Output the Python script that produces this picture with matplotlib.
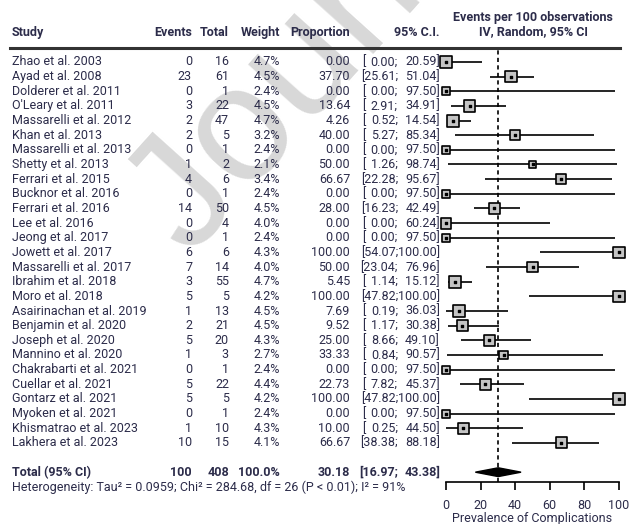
import matplotlib
matplotlib.use('Agg')
import matplotlib.pyplot as plt
from matplotlib.transforms import blended_transform_factory
from matplotlib.patches import Polygon
import numpy as np

plt.rcParams['font.family'] = ['Roboto', 'DejaVu Sans']

# data
studies = ['Zhao et al. 2003', 'Ayad et al. 2008', 'Dolderer et al. 2011', "O'Leary et al. 2011",
           'Massarelli et al. 2012', 'Khan et al. 2013', 'Massarelli et al. 2013', 'Shetty et al. 2013',
           'Ferrari et al. 2015', 'Bucknor et al. 2016', 'Ferrari et al. 2016', 'Lee et al. 2016',
           'Jeong et al. 2017', 'Jowett et al. 2017', 'Massarelli et al. 2017', 'Ibrahim et al. 2018',
           'Moro et al. 2018', 'Asairinachan et al. 2019', 'Benjamin et al. 2020', 'Joseph et al. 2020',
           'Mannino et al. 2020', 'Chakrabarti et al. 2021', 'Cuellar et al. 2021', 'Gontarz et al. 2021',
           'Myoken et al. 2021', 'Khismatrao et al. 2023', 'Lakhera et al. 2023']
events = [0, 23, 0, 3, 2, 2, 0, 1, 4, 0, 14, 0, 0, 6, 7, 3, 5, 1, 2, 5, 1, 0, 5, 5, 0, 1, 10]
totals = [16, 61, 1, 22, 47, 5, 1, 2, 6, 1, 50, 4, 1, 6, 14, 55, 5, 13, 21, 20, 3, 1, 22, 5, 1, 10, 15]
weights = [4.7, 4.5, 2.4, 4.5, 4.7, 3.2, 2.4, 2.1, 3.4, 2.4, 4.5, 4.0, 2.4, 4.3, 4.0, 4.7, 4.2,
           4.5, 4.5, 4.3, 2.7, 2.4, 4.4, 4.2, 2.4, 4.3, 4.1]
props = [0.00, 37.70, 0.00, 13.64, 4.26, 40.00, 0.00, 50.00, 66.67, 0.00, 28.00, 0.00, 0.00, 100.00,
         50.00, 5.45, 100.00, 7.69, 9.52, 25.00, 33.33, 0.00, 22.73, 100.00, 0.00, 10.00, 66.67]
ci_lo = [0.00, 25.61, 0.00, 2.91, 0.52, 5.27, 0.00, 1.26, 22.28, 0.00, 16.23, 0.00, 0.00, 54.07,
         23.04, 1.14, 47.82, 0.19, 1.17, 8.66, 0.84, 0.00, 7.82, 47.82, 0.00, 0.25, 38.38]
ci_hi = [20.59, 51.04, 97.50, 34.91, 14.54, 85.34, 97.50, 98.74, 95.67, 97.50, 42.49, 60.24, 97.50,
         100.00, 76.96, 15.12, 100.00, 36.03, 30.38, 49.10, 90.57, 97.50, 45.37, 100.00, 97.50, 44.50, 88.18]

total_events = 100
total_n = 408
pooled = 30.18
pooled_lo = 16.97
pooled_hi = 43.38
hetero = 'Heterogeneity: Tau² = 0.0959; Chi² = 284.68, df = 26 (P < 0.01); I² = 91%'
xticks = [0, 20, 40, 60, 80, 100]

W, H = 630, 524
txt = '#2c2c4a'
fs = 9.0

fig = plt.figure(figsize=(W / 100, H / 100), dpi=100)
fig.patch.set_facecolor('white')

# forest axes: x 0..100 maps to px 446..619, rows 14.65 px apart
ax = fig.add_axes([446 / W, 1 - 482 / H, 173 / W, (482 - 48) / H])
ax.patch.set_visible(False)
ax.set_xlim(0, 100)
ax.set_ylim(28.67, -0.95)

rows = np.arange(len(studies))
tot_row = len(studies) + 1

ax.hlines(rows, ci_lo, ci_hi, color='black', lw=1.2, zorder=2)
sides = 8.6 * (np.array(weights) / 4.7) ** 0.6
ax.scatter(props, rows, s=sides ** 2, marker='s', facecolor='#c4c4c4', edgecolor='black',
           linewidth=1.2, zorder=3, clip_on=False)
ax.scatter(props, rows, s=2, marker='s', color='black', zorder=4, clip_on=False)

ax.axvline(pooled, color='black', lw=1.2, ls=(0, (2.5, 2)), zorder=1)
diamond = Polygon([[pooled_lo, tot_row], [pooled, tot_row - 0.3], [pooled_hi, tot_row],
                   [pooled, tot_row + 0.3]], closed=True, color='black', zorder=5)
ax.add_patch(diamond)

for s in ['left', 'right', 'top']:
    ax.spines[s].set_visible(False)
ax.spines['bottom'].set_linewidth(1.2)
ax.spines['bottom'].set_bounds(0, 100)
ax.set_yticks([])
ax.set_xticks(xticks)
ax.tick_params(axis='x', direction='out', length=6, width=1.2, pad=6, labelsize=fs, labelcolor=txt)
ax.set_xlabel('Prevalence of Complications', fontsize=fs, color=txt, labelpad=0)

# table text: x in pixels, y in forest rows
tr = blended_transform_factory(fig.transFigure, ax.transData)


def put(x, y, s, ha='left', bold=False, **kw):
    ax.text(x / W, y, s, transform=tr, ha=ha, va='center', fontsize=fs, color=txt,
            fontweight='bold' if bold else 'normal', clip_on=False, **kw)


def put_ci(y, lo, hi, bold=False):
    if lo >= 10:
        put(398, y, f'[{lo:.2f};', ha='right', bold=bold)
    else:
        put(362, y, '[', bold=bold)
        put(398, y, f'{lo:.2f};', ha='right', bold=bold)
    put(440, y, f'{hi:.2f}]', ha='right', bold=bold)


put(12, -2, 'Study', bold=True)
put(192, -2, 'Events', ha='right', bold=True)
put(229, -2, 'Total', ha='right', bold=True)
put(280, -2, 'Weight', ha='right', bold=True)
put(350, -2, 'Proportion', ha='right', bold=True)
put(440, -2, '95% C.I.', ha='right', bold=True)
put(533, -3, 'Events per 100 observations', ha='center', bold=True)
put(533, -2.05, 'IV, Random, 95% CI', ha='center', bold=True)

ax.plot([10 / W, 620 / W], [-0.95, -0.95], transform=tr, color='#333333', lw=2.2, clip_on=False)

for i, name in enumerate(studies):
    put(12, i, name)
    put(192, i, str(events[i]), ha='right')
    put(229, i, str(totals[i]), ha='right')
    put(280, i, f'{weights[i]:.1f}%', ha='right')
    put(350, i, f'{props[i]:.2f}', ha='right')
    put_ci(i, ci_lo[i], ci_hi[i])

put(12, tot_row, 'Total (95% CI)', bold=True)
put(192, tot_row, str(total_events), ha='right', bold=True)
put(229, tot_row, str(total_n), ha='right', bold=True)
put(280, tot_row, '100.0%', ha='right', bold=True)
put(350, tot_row, f'{pooled:.2f}', ha='right', bold=True)
put_ci(tot_row, pooled_lo, pooled_hi, bold=True)
put(12, tot_row + 1.05, hetero)

# journal pre-proof watermark
fig.text(190 / W, 1 - 258 / H, 'Journal Pre-proof', rotation=48, rotation_mode='anchor',
         fontsize=118, color='#d8d8d8', ha='left', va='baseline', zorder=-1,
         family=['Liberation Sans', 'DejaVu Sans'])

fig.savefig('out.png', dpi=100)
